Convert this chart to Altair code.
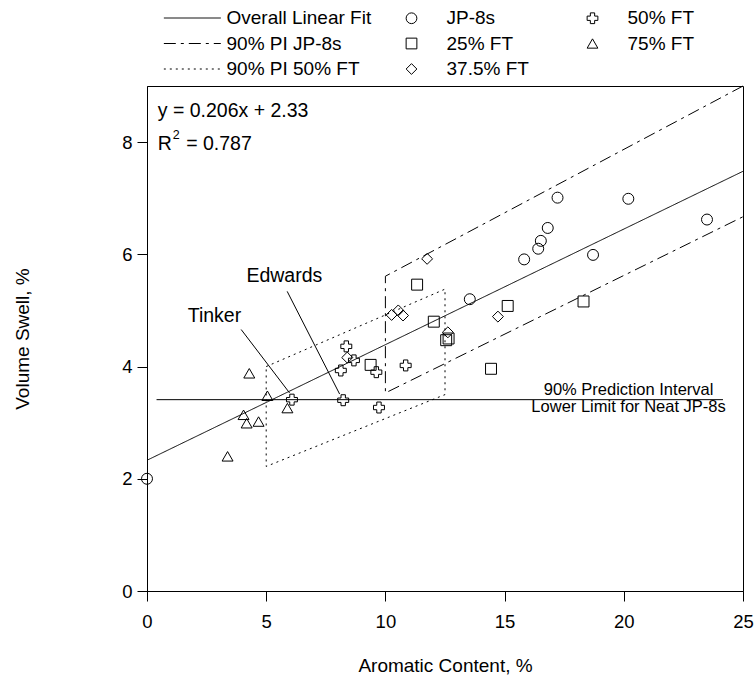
import altair as alt
import pandas as pd

FONT = "Liberation Sans"

# ---------------- data ----------------
jp8_x = [0.0, 13.54, 15.82, 16.41, 16.52, 16.81, 17.22, 18.71, 20.19, 23.49]
jp8_y = [2.00, 5.20, 5.91, 6.10, 6.24, 6.47, 7.01, 5.99, 6.99, 6.62]

ft25_x = [9.38, 11.33, 12.03, 12.55, 12.65, 14.43, 15.13, 18.31]
ft25_y = [4.03, 5.46, 4.80, 4.47, 4.50, 3.96, 5.08, 5.16]

ft375_x = [8.40, 10.26, 10.54, 10.74, 11.75, 12.62, 14.72]
ft375_y = [4.16, 4.92, 5.00, 4.91, 5.92, 4.61, 4.89]

ft50_x = [6.08, 8.13, 8.23, 8.36, 8.68, 9.62, 9.73, 10.85]
ft50_y = [3.41, 3.93, 3.40, 4.36, 4.11, 3.90, 3.27, 4.02]

ft75_x = [3.38, 4.05, 4.18, 4.29, 4.68, 5.05, 5.89]
ft75_y = [2.40, 3.14, 2.99, 3.88, 3.02, 3.48, 3.26]

group_names = ["JP-8s", "25% FT", "37.5% FT", "50% FT", "75% FT"]
group_shapes = ["circle", "square", "diamond", "cross", "triangle-up"]

# lines
line_names = ["Overall Linear Fit", "90% PI JP-8s", "90% PI 50% FT"]
fit_x = [0, 25]
fit_y = [2.33, 7.48]
pi_jp8_x = [25, 10, 10, 25]
pi_jp8_y = [9.00, 5.61, 3.53, 6.67]
pi_ft50_x = [5, 12.5, 12.5, 5, 5]
pi_ft50_y = [4.00, 5.38, 3.50, 2.22, 4.00]

# neat JP-8 lower limit
limit_y = 3.41
limit_x = [0.4, 24.16]

# annotation anchor points (data units)
eq_text = "y = 0.206x + 2.33"
eq_pos = (0.45, 8.45)
r2_pos = (0.45, 7.86)
r2_value = "= 0.787"
name_labels = ["Edwards", "Tinker"]
name_x = [5.76, 2.83]
name_y = [5.51, 4.80]
leader_x = [5.88, 3.95]
leader_y = [5.34, 4.66]
leader_x2 = [8.08, 5.98]
leader_y2 = [3.51, 3.53]
limit_labels = ["90% Prediction Interval", "Lower Limit for Neat JP-8s"]
limit_label_x = [20.2, 20.2]
limit_label_y = [3.50, 3.19]

# ---------------- tables ----------------
pts = pd.concat([
    pd.DataFrame({"x": xs, "y": ys, "group": g})
    for g, xs, ys in zip(group_names,
                         [jp8_x, ft25_x, ft375_x, ft50_x, ft75_x],
                         [jp8_y, ft25_y, ft375_y, ft50_y, ft75_y])
], ignore_index=True)

lines = pd.concat([
    pd.DataFrame({"x": xs, "y": ys, "series": n, "seq": list(range(len(xs)))})
    for n, xs, ys in zip(line_names, [fit_x, pi_jp8_x, pi_ft50_x], [fit_y, pi_jp8_y, pi_ft50_y])
], ignore_index=True)

limit_df = pd.DataFrame({"x": [limit_x[0]], "x2": [limit_x[1]], "y": [limit_y]})
leader_df = pd.DataFrame({"x": leader_x, "y": leader_y, "x2": leader_x2, "y2": leader_y2})
names_df = pd.DataFrame({"x": name_x, "y": name_y, "t": name_labels})
limit_lab_df = pd.DataFrame({"x": limit_label_x, "y": limit_label_y, "t": limit_labels})
eq_df = pd.DataFrame({"x": [eq_pos[0]], "y": [eq_pos[1]], "t": [eq_text]})
r2_df = pd.DataFrame({"x": [r2_pos[0]], "y": [r2_pos[1]]})

# ---------------- scales / axes ----------------
xs = alt.Scale(domain=[0, 25], nice=False, zero=False)
ys = alt.Scale(domain=[0, 9], nice=False, zero=False)
x_axis = alt.Axis(values=[0, 5, 10, 15, 20, 25], title="Aromatic Content, %", grid=False,
                  tickSize=10, labelPadding=11, titleX=298, titleY=80, labelFlush=False,
                  titleBaseline="alphabetic", titleAlign="center",
                  labelFont=FONT, labelFontSize=18.5, titleFont=FONT, titleFontSize=19,
                  titleFontWeight="normal", labelColor="black", titleColor="black",
                  domainColor="black", tickColor="black")
y_axis = alt.Axis(values=[0, 2, 4, 6, 8], title="Volume Swell, %", grid=False,
                  tickSize=10, labelPadding=5, titleAngle=270, titleX=-119, titleY=252.5,
                  labelFlush=False,
                  titleBaseline="alphabetic", titleAlign="center",
                  labelFont=FONT, labelFontSize=18.5, titleFont=FONT, titleFontSize=19,
                  titleFontWeight="normal", labelColor="black", titleColor="black",
                  domainColor="black", tickColor="black")
X = alt.X("x:Q", scale=xs, axis=x_axis)
Y = alt.Y("y:Q", scale=ys, axis=y_axis)

line_layer = alt.Chart(lines).mark_line(color="black", strokeWidth=1).encode(
    x=X, y=Y,
    order=alt.Order("seq:Q"),
    strokeDash=alt.StrokeDash(
        "series:N",
        scale=alt.Scale(domain=line_names, range=[[1, 0], [12, 5, 3, 5], [2, 4]]),
        legend=alt.Legend(title=None, orient="none", legendX=16.3, legendY=-77.5,
                          direction="vertical", symbolType="stroke", symbolSize=3249,
                          symbolStrokeWidth=1, symbolStrokeColor="black", clipHeight=19,
                          rowPadding=5.5, labelOffset=5.2, labelFontSize=19, labelFont=FONT,
                          labelColor="black", labelLimit=400, padding=0),
    ),
)

limit_layer = alt.Chart(limit_df).mark_rule(color="black", strokeWidth=1).encode(
    x=X, x2="x2:Q", y=Y)

leader_layer = alt.Chart(leader_df).mark_rule(color="black", strokeWidth=1).encode(
    x=X, y=Y, x2="x2:Q", y2="y2:Q")

pt_layer = alt.Chart(pts).mark_point(filled=False, color="black", strokeWidth=1, size=120, opacity=1).encode(
    x=X, y=Y,
    shape=alt.Shape(
        "group:N",
        scale=alt.Scale(domain=group_names, range=group_shapes),
        legend=alt.Legend(title=None, orient="none", legendX=255, legendY=-77.5,
                          columns=2, columnPadding=54, rowPadding=5.5, clipHeight=19,
                          symbolSize=115, symbolStrokeColor="black", symbolStrokeWidth=1,
                          labelOffset=25.5, labelFontSize=19, labelFont=FONT,
                          labelColor="black", labelLimit=400, padding=0),
    ),
)

names_layer = alt.Chart(names_df).mark_text(font=FONT, fontSize=19.5, color="black",
                                            align="center", baseline="alphabetic").encode(
    x=X, y=Y, text="t:N")
limit_text_layer = alt.Chart(limit_lab_df).mark_text(font=FONT, fontSize=16.5, color="black",
                                                     align="center", baseline="alphabetic").encode(
    x=X, y=Y, text="t:N")
eq_layer = alt.Chart(eq_df).mark_text(font=FONT, fontSize=19.5, color="black",
                                      align="left", baseline="alphabetic").encode(
    x=X, y=Y, text="t:N")
r_layer = alt.Chart(r2_df).mark_text(font=FONT, fontSize=19.5, color="black", align="left",
                                     baseline="alphabetic", text="R").encode(x=X, y=Y)
sup_layer = alt.Chart(r2_df).mark_text(font=FONT, fontSize=12.5, color="black", align="left",
                                       baseline="alphabetic", text="2", dx=15, dy=-10.7).encode(x=X, y=Y)
r2v_layer = alt.Chart(r2_df).mark_text(font=FONT, fontSize=19.5, color="black", align="left",
                                       baseline="alphabetic", text=r2_value, dx=28.4).encode(x=X, y=Y)

chart = alt.layer(
    line_layer, limit_layer, leader_layer, pt_layer,
    names_layer, limit_text_layer, eq_layer, r_layer, sup_layer, r2v_layer
).properties(
    width=596, height=505,
    autosize=alt.AutoSizeParams(type="none"),
    padding={"left": 147, "top": 86, "right": 13, "bottom": 88},
    background="white",
).configure_view(
    stroke="black", strokeWidth=1
).configure_axis(
    domainColor="black", tickColor="black", labelColor="black", titleColor="black",
    labelFont=FONT, titleFont=FONT, labelFontSize=18.5, titleFontSize=19,
    titleFontWeight="normal", domainWidth=1, tickWidth=1
)

chart.save("out.html", embed_options={"renderer": "svg", "actions": False})
